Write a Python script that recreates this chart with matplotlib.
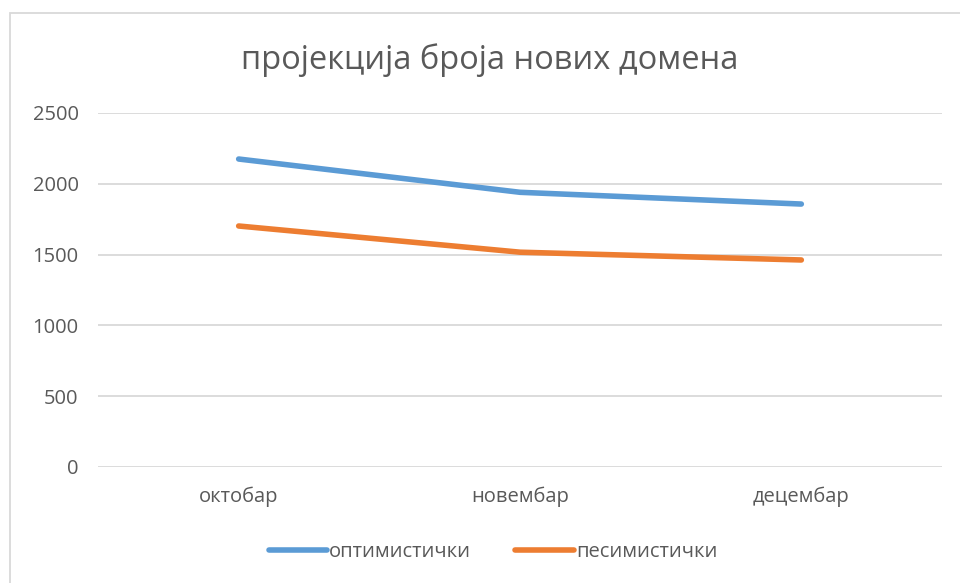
import matplotlib
matplotlib.use("Agg")
import matplotlib.pyplot as plt
from matplotlib.patches import Rectangle

months = ["октобар", "новембар", "децембар"]
optimistic = [2175, 1940, 1857]
pessimistic = [1702, 1517, 1462]
y_ticks = [0, 500, 1000, 1500, 2000, 2500]

plt.rcParams["font.family"] = ["Open Sans", "DejaVu Sans"]
text_color = "#595959"

fig = plt.figure(figsize=(9.6, 5.83), dpi=100)
ax = fig.add_axes([98 / 960, 1 - 467 / 583, (942 - 98) / 960, (467 - 113) / 583])

x = range(len(months))
ax.plot(x, optimistic, color="#5B9BD5", linewidth=4, solid_capstyle="round", label="оптимистички")
ax.plot(x, pessimistic, color="#ED7D31", linewidth=4, solid_capstyle="round", label="песимистички")

ax.set_xlim(-0.5, len(months) - 0.5)
ax.set_ylim(0, 2500)
ax.set_yticks(y_ticks)
ax.set_xticks(list(x))
ax.set_xticklabels(months)
ax.yaxis.grid(True, color="#D9D9D9", linewidth=1.3)
ax.set_axisbelow(True)
for s in ax.spines.values():
    s.set_visible(False)
ax.tick_params(axis="both", length=0, labelsize=14.5, colors=text_color)
ax.tick_params(axis="y", pad=14)
ax.tick_params(axis="x", pad=14)

fig.text(490 / 960, 1 - 60 / 583, "пројекција броја нових домена", ha="center", va="center",
         fontsize=23.5, color=text_color)

leg = fig.legend(loc="center", bbox_to_anchor=(493 / 960, 1 - 552 / 583), ncol=2, frameon=False,
                 fontsize=14.5, handlelength=2.9, handletextpad=0.1, columnspacing=2.2)
for t in leg.get_texts():
    t.set_color(text_color)

fig.patches.append(Rectangle((10 / 960, -0.05), 1.2, 1.05 - 13 / 583, transform=fig.transFigure,
                             fill=False, edgecolor="#D9D9D9", linewidth=1.3))

fig.savefig("out.png", dpi=100)
